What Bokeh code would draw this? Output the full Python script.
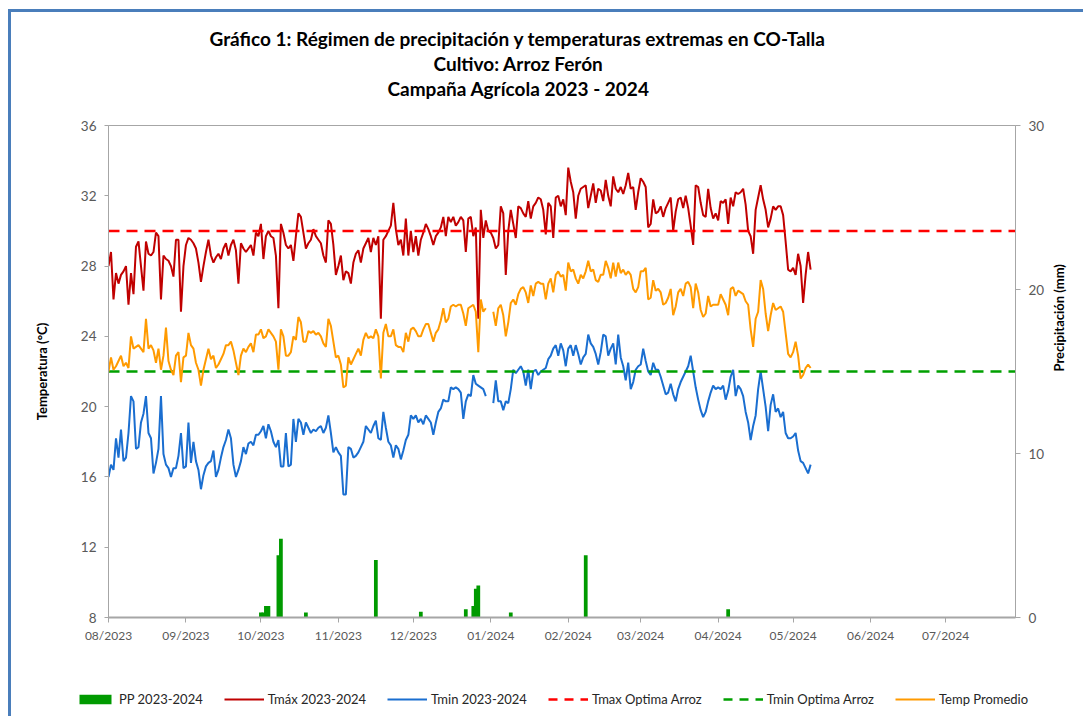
import math
import numpy as np
import pandas as pd
from bokeh.plotting import figure
from bokeh.layouts import column
from bokeh.models import (Range1d, LinearAxis, FixedTicker, DatetimeTickFormatter,
                          Legend, LegendItem, Title, ColumnDataSource)
from bokeh.embed import file_html
from bokeh.resources import INLINE

# ---------------- data ----------------
start_date = "2023-08-01"
x_end = "2024-07-29"

tmax = [
    28.0, 28.8, 26.1, 27.6, 27.0, 27.5, 27.7, 28.0, 25.8, 27.6, 26.4, 29.1, 29.4, 28.0, 26.6, 29.4, 28.7, 28.6,
    28.8, 29.9, 29.7, 26.1, 28.6, 28.4, 28.3, 28.0, 27.4, 29.5, 29.5, 25.4, 28.0, 29.2, 29.6, 29.5, 29.3, 29.0,
    28.2, 27.1, 28.0, 28.8, 29.5, 28.6, 28.2, 28.5, 28.7, 28.4, 29.0, 29.3, 28.6, 29.2, 29.5, 28.9, 27.0, 29.3,
    29.0, 28.8, 29.0, 29.2, 28.6, 29.9, 29.7, 30.4, 28.4, 29.7, 30.0, 29.7, 29.6, 28.6, 25.6, 30.4, 29.9, 29.2,
    29.0, 29.2, 28.3, 29.7, 31.0, 30.8, 29.9, 29.0, 29.3, 29.5, 30.1, 29.7, 29.5, 29.3, 28.6, 28.2, 30.6, 30.4,
    29.2, 27.5, 28.0, 28.6, 27.2, 27.7, 27.6, 27.0, 28.2, 28.7, 28.9, 28.2, 29.0, 29.3, 29.6, 28.8, 29.6, 29.2,
    29.7, 25.0, 29.5, 29.7, 30.0, 30.3, 31.6, 30.1, 29.2, 29.5, 28.6, 30.7, 28.6, 30.0, 28.8, 29.7, 28.6, 29.5,
    29.9, 30.4, 30.1, 29.7, 29.2, 29.7, 29.9, 30.2, 30.8, 29.7, 30.8, 30.5, 30.8, 30.3, 30.5, 30.8, 30.6,
    28.8, 30.7, 30.8, 29.7, 30.2, 25.0, 31.2, 29.6, 30.6, 30.0, 29.9, 29.6, 29.0, 29.2, 31.4, 31.0, 27.5, 30.0,
    31.2, 30.4, 29.6, 31.4, 31.3, 31.0, 30.8, 31.7, 30.7, 31.4, 31.6, 31.9, 31.8, 31.2, 29.8, 31.6, 31.4, 29.6,
    31.9, 32.0, 31.4, 31.8, 30.9, 33.6, 32.8, 32.2, 30.7, 32.0, 32.4, 32.5, 32.6, 31.3, 32.0, 32.7, 31.6, 32.4,
    32.3, 31.7, 32.9, 32.0, 31.4, 33.1, 32.4, 32.2, 32.5, 32.1, 32.6, 33.3, 32.4, 32.5, 31.2, 32.2, 33.0,
    32.8, 32.5, 30.2, 30.4, 31.8, 31.0, 31.1, 31.4, 30.8, 31.3, 31.6, 31.9, 30.0, 31.1, 31.8, 31.9, 31.3, 32.0,
    31.3, 30.3, 29.2, 32.6, 32.5, 31.6, 30.9, 30.8, 32.4, 31.3, 30.7, 31.0, 30.6, 31.7, 31.6, 31.8, 30.4, 31.9,
    31.4, 32.2, 32.1, 32.2, 32.4, 31.5, 30.0, 29.7, 28.7, 31.2, 31.9, 32.6, 31.8, 31.2, 30.2, 30.7, 31.4, 31.2,
    31.4, 31.4, 30.9, 29.4, 27.8, 27.7, 27.9, 27.5, 28.7, 28.0, 25.9, 27.5, 28.8, 27.8,
]

tmin = [
    16.0, 16.7, 16.4, 18.2, 17.1, 18.7, 16.9, 17.1, 18.5, 20.6, 20.3, 17.6, 17.7, 19.1, 19.6, 20.6, 18.5, 18.2,
    16.2, 16.8, 17.6, 20.6, 17.3, 16.7, 16.5, 16.0, 16.5, 16.5, 17.2, 18.5, 16.5, 16.6, 19.1, 16.8, 18.0, 16.9,
    16.4, 15.3, 16.1, 16.6, 16.8, 16.9, 17.5, 16.0, 16.4, 17.1, 17.7, 18.1, 18.7, 18.2, 16.7, 16.0, 16.4, 16.9,
    17.7, 17.3, 17.9, 18.0, 17.8, 18.4, 18.4, 18.6, 18.9, 18.2, 19.0, 18.6, 18.0, 17.7, 18.1, 16.6, 16.6, 18.5,
    16.6, 16.7, 19.3, 18.0, 19.3, 19.1, 18.4, 19.1, 18.8, 18.5, 18.7, 18.6, 18.8, 18.9, 18.5, 18.8, 19.5, 18.5,
    17.4, 17.7, 17.4, 17.2, 15.0, 15.0, 17.7, 17.6, 17.1, 17.2, 17.4, 17.7, 18.0, 18.9, 18.7, 18.5, 18.9, 19.2,
    18.2, 18.1, 19.7, 18.8, 18.0, 17.8, 17.1, 17.8, 17.6, 17.0, 17.5, 18.1, 18.4, 19.5, 19.3, 19.5, 19.1, 19.3,
    19.0, 19.5, 19.3, 19.1, 18.4, 19.1, 19.7, 19.9, 20.4, 20.3, 20.3, 21.1, 21.0, 21.1, 21.0, 20.8, 19.3,
    20.3, 20.7, 20.6, 21.8, 21.3, 21.2, 21.1, 21.0, 20.6, np.nan, np.nan, 20.2, 21.5, 20.3, 20.3, 19.8, 20.3, 20.2,
    21.0, 22.1, 21.9, 22.1, 22.3, 22.0, 21.2, 22.1, 21.0, 22.0, 22.1, 21.8, 22.0, 22.1, 22.2, 22.7, 22.9, 23.3,
    23.5, 22.9, 23.6, 23.2, 22.3, 23.3, 23.5, 22.9, 23.5, 23.0, 22.4, 22.8, 23.0, 24.1, 23.6, 23.4, 23.0, 22.4,
    23.1, 24.1, 24.0, 22.9, 23.3, 23.6, 22.4, 24.1, 22.8, 22.3, 21.5, 22.5, 21.0, 21.4, 22.1, 22.3, 22.4,
    23.3, 22.6, 22.0, 21.8, 22.5, 22.1, 22.1, 21.7, 21.2, 20.7, 20.8, 21.3, 20.7, 20.3, 21.0, 21.4, 21.7, 22.0,
    22.3, 22.9, 22.0, 21.1, 20.4, 19.8, 19.4, 19.7, 20.3, 20.8, 21.2, 21.0, 21.1, 21.0, 21.2, 20.4, 20.9, 21.7,
    22.1, 20.6, 21.2, 21.0, 20.6, 19.7, 19.1, 18.1, 18.9, 19.5, 21.0, 22.0, 21.0, 20.0, 18.6, 20.1, 20.7, 19.7,
    19.9, 19.4, 19.7, 18.5, 18.2, 18.2, 18.3, 18.5, 17.5, 16.9, 16.8, 16.5, 16.2, 16.7,
]

tavg = [
    22.0, 22.8, 22.1, 22.3, 22.6, 22.9, 22.3, 22.5, 22.2, 24.0, 23.3, 23.4, 23.5, 23.3, 23.1, 25.0, 23.3, 23.5,
    23.2, 22.5, 23.3, 22.1, 22.9, 24.5, 22.6, 22.1, 21.8, 22.9, 23.1, 21.4, 22.8, 22.9, 24.2, 23.5, 23.3, 22.5,
    22.1, 21.2, 22.1, 22.7, 23.3, 22.7, 22.9, 22.2, 22.4, 22.7, 23.0, 23.5, 23.5, 23.7, 23.2, 22.5, 21.8, 22.9,
    23.3, 23.1, 23.4, 23.6, 23.1, 24.1, 24.1, 24.4, 23.9, 24.0, 24.4, 24.2, 24.0, 23.7, 22.1, 24.4, 24.0, 22.9,
    22.9, 23.1, 24.0, 23.8, 25.1, 24.8, 23.7, 23.7, 24.3, 24.2, 24.3, 24.1, 24.2, 24.0, 23.6, 23.4, 25.0, 24.6,
    23.7, 22.8, 22.9, 22.4, 21.1, 21.2, 22.8, 22.4, 22.7, 23.0, 23.3, 22.9, 23.8, 24.2, 23.9, 24.0, 23.9, 24.4,
    24.0, 21.6, 24.2, 24.7, 24.0, 24.0, 24.4, 23.5, 23.4, 23.4, 23.1, 24.2, 23.7, 24.4, 24.5, 24.3, 24.0, 24.0,
    24.4, 24.7, 24.7, 24.2, 23.7, 24.2, 24.4, 24.9, 25.6, 24.8, 25.0, 25.7, 25.8, 25.7, 25.8, 25.8, 25.3,
    24.6, 25.6, 25.7, 25.8, 25.4, 23.1, 26.1, 25.4, 25.6, np.nan, np.nan, 25.4, 24.6, 25.6, 25.8, 25.2, 24.0, 24.8,
    25.9, 26.1, 25.8, 26.4, 26.7, 26.8, 26.5, 25.9, 26.9, 26.3, 27.0, 27.1, 27.0, 27.0, 26.1, 27.0, 27.3, 26.5,
    27.5, 27.7, 27.4, 27.5, 26.6, 28.2, 27.7, 27.8, 27.3, 27.0, 27.5, 27.3, 27.7, 28.3, 27.7, 27.8, 27.2, 27.1,
    27.5, 27.5, 28.3, 27.9, 27.3, 28.2, 27.4, 28.2, 27.6, 27.8, 27.5, 27.7, 27.5, 26.7, 26.5, 26.8, 27.7,
    27.7, 27.9, 26.1, 26.2, 27.2, 26.6, 26.7, 26.5, 25.8, 25.9, 26.2, 26.7, 25.2, 25.7, 26.5, 26.7, 26.3, 27.0,
    27.1, 26.8, 25.6, 27.0, 26.5, 25.5, 25.1, 25.3, 26.3, 25.7, 25.8, 25.8, 25.8, 26.4, 26.1, 25.8, 25.2, 26.7,
    26.8, 26.3, 26.6, 26.5, 26.4, 26.0, 25.8, 24.4, 23.4, 25.0, 25.4, 27.2, 26.7, 25.3, 24.3, 25.2, 25.9, 25.5,
    25.6, 25.7, 25.4, 24.2, 23.0, 22.8, 23.1, 23.7, 22.9, 21.6, 21.8, 22.2, 22.4, 22.2,
]

pp_dates = ["2023-10-01", "2023-10-02", "2023-10-03", "2023-10-04", "2023-10-08", "2023-10-09",
            "2023-10-19", "2023-11-16", "2023-12-04", "2023-12-22", "2023-12-25", "2023-12-26",
            "2023-12-27", "2024-01-09", "2024-02-08", "2024-04-05"]
pp_mm = [0.3, 0.3, 0.7, 0.7, 3.8, 4.8, 0.3, 3.5, 0.35, 0.5, 0.7, 1.75, 1.95, 0.3, 3.8, 0.5]

tmax_opt = 30
tmin_opt = 22

temp_ticks = [8, 12, 16, 20, 24, 28, 32, 36]
pp_ticks = [0, 10, 20, 30]
month_ticks = pd.date_range("2023-08-01", "2024-07-01", freq="MS")

title_lines = ["Gráfico 1:  Régimen de precipitación y temperaturas extremas en CO-Talla",
               "Cultivo: Arroz Ferón",
               "Campaña Agrícola 2023 - 2024"]
legend_labels = ["PP 2023-2024", "Tmáx 2023-2024", "Tmin 2023-2024",
                 "Tmax Optima Arroz", "Tmin Optima Arroz", "Temp Promedio"]

# ---------------- styling ----------------
FONT = "Lato"
C_TMAX = "#c00000"
C_TMIN = "#1a6ed0"
C_TAVG = "#ff9a00"
C_TMAXOPT = "#ff0000"
C_TMINOPT = "#00a000"
C_PP = "#009a00"
AX = "#a6a6a6"
TXT = "#595959"
DASH = "11 7"

dates = pd.date_range(start_date, periods=len(tmax), freq="D")
x0 = pd.Timestamp(start_date)
x1 = pd.Timestamp(x_end)

src = ColumnDataSource(dict(x=dates, tmax=np.array(tmax, dtype=float),
                            tmin=np.array(tmin, dtype=float), tavg=np.array(tavg, dtype=float)))
pp_src = ColumnDataSource(dict(x=pd.to_datetime(pp_dates), top=pp_mm))
opt_src = ColumnDataSource(dict(x=[x0, x1], tmax_opt=[tmax_opt, tmax_opt], tmin_opt=[tmin_opt, tmin_opt]))

# ---------------- main chart ----------------
p = figure(width=1072, height=638, x_axis_type="datetime",
           x_range=Range1d(x0, x1), y_range=Range1d(temp_ticks[0], temp_ticks[-1]),
           output_backend="svg", toolbar_location=None, frame_align=False,
           min_border_left=97, min_border_right=68, min_border_top=113, min_border_bottom=33,
           background_fill_color="white", border_fill_color="white",
           outline_line_color=AX, outline_line_width=1)
p.grid.grid_line_color = None
p.extra_y_ranges = {"pp": Range1d(pp_ticks[0], pp_ticks[-1])}

p.vbar(x="x", top="top", bottom=0, width=1.5 * 86400000, source=pp_src,
       y_range_name="pp", fill_color=C_PP, line_color=None)
p.line("x", "tmax", source=src, color=C_TMAX, line_width=2)
p.line("x", "tmin", source=src, color=C_TMIN, line_width=2)
p.line("x", "tmax_opt", source=opt_src, color=C_TMAXOPT, line_width=2.5, line_dash=DASH)
p.line("x", "tmin_opt", source=opt_src, color=C_TMINOPT, line_width=2.5, line_dash=DASH)
p.line("x", "tavg", source=src, color=C_TAVG, line_width=2)

yax = p.yaxis[0]
yax.ticker = FixedTicker(ticks=temp_ticks)
yax.axis_label = "Temperatura (°C)"
yax.axis_label_text_font = FONT
yax.axis_label_text_font_style = "bold"
yax.axis_label_text_font_size = "13px"
yax.axis_label_text_color = "black"
yax.axis_label_standoff = 28
yax.major_label_text_font = FONT
yax.major_label_text_font_size = "13.5px"
yax.major_label_text_color = TXT
yax.major_label_standoff = 8
yax.axis_line_color = AX
yax.major_tick_line_color = AX
yax.major_tick_out = 4
yax.major_tick_in = 0
yax.minor_tick_line_color = None

rax = LinearAxis(y_range_name="pp", ticker=FixedTicker(ticks=pp_ticks),
                 axis_label="Precipitación (mm)", axis_label_orientation=math.pi / 2)
rax.axis_label_text_font = FONT
rax.axis_label_text_font_style = "bold"
rax.axis_label_text_font_size = "13px"
rax.axis_label_text_color = "black"
rax.axis_label_standoff = 12
rax.major_label_text_font = FONT
rax.major_label_text_font_size = "13.5px"
rax.major_label_text_color = TXT
rax.major_label_standoff = 8
rax.axis_line_color = AX
rax.major_tick_line_color = AX
rax.major_tick_out = 5
rax.major_tick_in = 0
rax.minor_tick_line_color = None
p.add_layout(rax, "right")

xax = p.xaxis[0]
xax.ticker = FixedTicker(ticks=[t.value // 10**6 for t in month_ticks])
fmt = "%m/%Y"
xax.formatter = DatetimeTickFormatter(milliseconds=fmt, seconds=fmt, minsec=fmt, minutes=fmt,
                                      hourmin=fmt, hours=fmt, days=fmt, months=fmt, years=fmt)
xax.major_label_text_font = FONT
xax.major_label_text_font_size = "12px"
xax.major_label_text_color = TXT
xax.major_label_standoff = 5
xax.axis_line_color = AX
xax.axis_line_width = 2
xax.major_tick_line_color = AX
xax.major_tick_out = 5
xax.major_tick_in = 0
xax.minor_tick_line_color = None

# titles: spacer nearest the frame, then lines 3, 2, 1 (left-aligned with offsets)
p.add_layout(Title(text=" ", standoff=12, text_font=FONT, text_font_size="10px"), "above")
for text, off in [(title_lines[2], 279), (title_lines[1], 325), (title_lines[0], 101)]:
    p.add_layout(Title(text=text, align="left", offset=off, standoff=0,
                       text_font=FONT, text_font_size="19px", text_font_style="bold",
                       text_color="black"), "above")

# ---------------- legend strip (below the chart) ----------------
# the strip's ranges lie far away from the data, so its renderers only feed the legend
lf = figure(width=1072, height=66, x_range=Range1d(0, 1), y_range=Range1d(0, 1),
            output_backend="svg", toolbar_location=None, frame_align=False,
            x_axis_location=None, y_axis_location=None, outline_line_color=None,
            min_border_left=0, min_border_right=0, min_border_top=0, min_border_bottom=0,
            background_fill_color="white", border_fill_color="white")
lf.grid.grid_line_color = None
g_pp = lf.vbar(x="x", top="top", width=1.0, source=pp_src, fill_color=C_PP, line_color=None)
g_tmax = lf.line("x", "tmax", source=src, color=C_TMAX, line_width=2)
g_tmin = lf.line("x", "tmin", source=src, color=C_TMIN, line_width=2)
g_tmaxopt = lf.line("x", "tmax_opt", source=opt_src, color=C_TMAXOPT, line_width=2.5, line_dash="9 7")
g_tminopt = lf.line("x", "tmin_opt", source=opt_src, color=C_TMINOPT, line_width=2.5, line_dash="9 7")
g_tavg = lf.line("x", "tavg", source=src, color=C_TAVG, line_width=2)

legend = Legend(items=[
    LegendItem(label=legend_labels[0], renderers=[g_pp]),
    LegendItem(label=legend_labels[1], renderers=[g_tmax]),
    LegendItem(label=legend_labels[2], renderers=[g_tmin]),
    LegendItem(label=legend_labels[3], renderers=[g_tmaxopt]),
    LegendItem(label=legend_labels[4], renderers=[g_tminopt]),
    LegendItem(label=legend_labels[5], renderers=[g_tavg]),
], location=(64, 9), orientation="horizontal", glyph_width=40, glyph_height=12,
    label_height=12, label_text_font=FONT, label_text_font_size="13px", label_text_color="#262626",
    spacing=21, label_standoff=4, padding=5, margin=0, border_line_color=None,
    background_fill_alpha=0)
lf.add_layout(legend)

layout = column(p, lf, spacing=0,
                styles={"margin-left": "8px", "margin-top": "9px",
                        "border-top": "3px solid #4a7ebb", "border-left": "3px solid #4a7ebb"})

open("out.html", "w").write(file_html(layout, INLINE))
